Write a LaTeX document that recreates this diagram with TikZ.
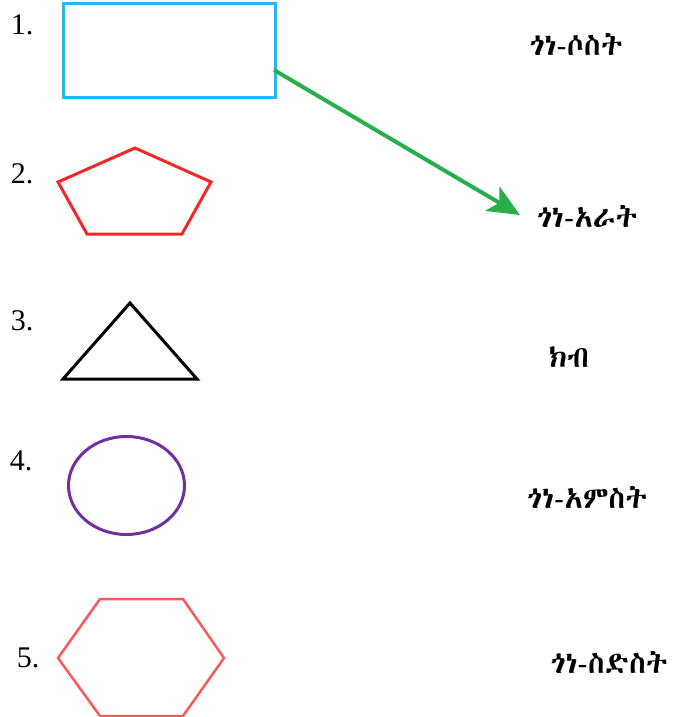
\documentclass[tikz,border=0pt]{standalone}
\usepackage{fontspec}
\setmainfont{Liberation Serif}
\IfFontExistsTF{Abyssinica SIL}{\newfontfamily\ethfont{Abyssinica SIL}}{%
  \IfFontExistsTF{FreeSerif}{\newfontfamily\ethfont{FreeSerif}}{%
    \IfFontExistsTF{FreeSans}{\newfontfamily\ethfont{FreeSans}}{%
      \newfontfamily\ethfont{DejaVu Sans}}}}
\usetikzlibrary{arrows.meta}
\definecolor{rectblue}{RGB}{41,182,240}
\definecolor{pentred}{RGB}{240,40,40}
\definecolor{hexred}{RGB}{250,90,90}
\definecolor{ovalpurple}{RGB}{112,48,160}
\definecolor{arrgreen}{RGB}{40,175,75}
\tikzset{
  numlabel/.style={anchor=base, font=\fontsize{30}{30}\selectfont, inner sep=0pt},
  ethlabel/.style={anchor=base, font=\ethfont\fontsize{30}{30}\selectfont, inner sep=0pt},
  shapeline/.style={line width=3pt, line join=miter},
}
\begin{document}
\begin{tikzpicture}[x=1pt,y=-1pt]
\useasboundingbox (0,0) rectangle (672,717);
% numbers
\node[numlabel] (n1) at (22,35) {1.};
\node[numlabel] (n2) at (22,183) {2.};
\node[numlabel] (n3) at (22,330) {3.};
\node[numlabel] (n4) at (21,470) {4.};
\node[numlabel] (n5) at (28,667) {5.};
% shapes
\node[draw=rectblue, shapeline, minimum width=212pt, minimum height=93pt, inner sep=0pt] (r1) at (169,50.5) {};
\draw[pentred, shapeline] (135,148) -- (211,182) -- (182,234) -- (87,234) -- (58,182) -- cycle;
\draw[black, shapeline] (130,303) -- (197,379) -- (63,379) -- cycle;
\draw[ovalpurple, shapeline] (126.5,485.5) ellipse [x radius=58, y radius=49];
\draw[hexred, line width=2.5pt] (100,599) -- (183,599) -- (224,658) -- (183,716) -- (100,716) -- (58,658) -- cycle;
% labels
\node[ethlabel] (t1) at (576,56) {ጎነ-ሶስት};
\node[ethlabel] (t2) at (587,227) {ጎነ-አራት};
\node[ethlabel] (t3) at (569,367) {ክብ};
\node[ethlabel] (t4) at (587,508) {ጎነ-አምስት};
\node[ethlabel] (t5) at (609,673) {ጎነ-ስድስት};
% arrow
\coordinate (as) at (274,70);
\coordinate (ae) at (520,215);
\draw[arrgreen, line width=4pt, -{Stealth[length=32pt, width=28pt, inset=8pt]}] (as) -- (ae);
\end{tikzpicture}
\end{document}
